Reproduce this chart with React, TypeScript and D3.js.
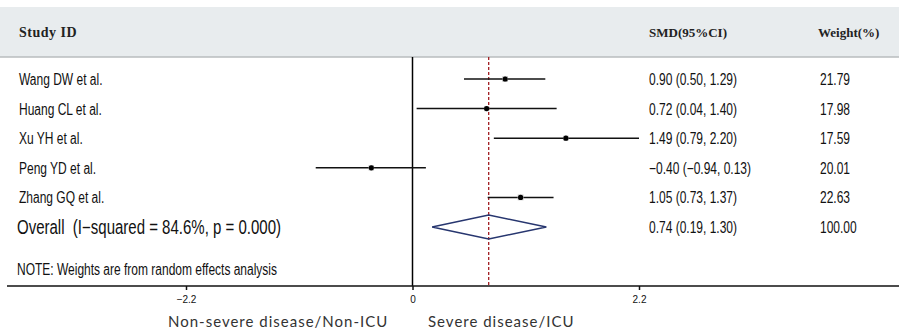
import React, { useRef, useEffect } from 'react';
import * as d3 from 'd3';

const studies = ['Wang DW et al.', 'Huang CL et al.', 'Xu YH et al.', 'Peng YD et al.', 'Zhang GQ et al.'];
const smd = [0.90, 0.72, 1.49, -0.40, 1.05];
const lower = [0.50, 0.04, 0.79, -0.94, 0.73];
const upper = [1.29, 1.40, 2.20, 0.13, 1.37];
const weights = ['21.79', '17.98', '17.59', '20.01', '22.63'];
const ciLabels = ['0.90 (0.50, 1.29)', '0.72 (0.04, 1.40)', '1.49 (0.79, 2.20)', '\u22120.40 (\u22120.94, 0.13)', '1.05 (0.73, 1.37)'];

const overallLabel = 'Overall  (I\u2212squared = 84.6%, p = 0.000)';
const overall = { est: 0.74, lo: 0.19, hi: 1.30, ci: '0.74 (0.19, 1.30)', weight: '100.00' };
const ticks = [-2.2, 0, 2.2];
const tickLabels = ['\u22122.2', '0', '2.2'];

const sans = '"Liberation Sans", Arial, sans-serif';

// condensed-looking text: regular sans squeezed horizontally
const narrowText = (g: any, x: number, y: number, str: string, size: number, sx = 0.75) =>
  g.append('text')
    .attr('transform', `translate(${x},${y}) scale(${sx},1)`)
    .attr('font-family', sans)
    .attr('font-size', size)
    .attr('fill', '#111')
    .attr('xml:space', 'preserve')
    .text(str);

const App = () => {
  const ref = useRef<SVGSVGElement>(null);

  useEffect(() => {
    const width = 899;
    const svg = d3.select(ref.current);
    svg.selectAll('*').remove();

    const x = d3.scaleLinear().domain([-2.2, 2.2]).range([186, 639]);
    const y = d3.scalePoint<string>().domain([...studies, 'Overall']).range([79, 227]);
    const axisY = 286;

    // header band
    svg.append('rect').attr('x', 0).attr('y', 7).attr('width', width).attr('height', 50).attr('fill', '#e8ecee');
    svg.append('line').attr('x1', 0).attr('x2', width).attr('y1', 57).attr('y2', 57).attr('stroke', '#b9bcbe').attr('stroke-width', 1.5);

    const head = svg.append('g').attr('font-family', '"Liberation Serif", serif').attr('font-weight', 'bold').attr('font-size', 13).attr('fill', '#222');
    head.append('text').attr('x', 19).attr('y', 37).attr('font-size', 14).attr('letter-spacing', 0.5).text('Study ID');
    head.append('text').attr('x', 649).attr('y', 37).text('SMD(95%CI)');
    head.append('text').attr('x', 818).attr('y', 37).text('Weight(%)');

    // zero line
    svg.append('line').attr('x1', x(0)).attr('x2', x(0)).attr('y1', 57).attr('y2', axisY).attr('stroke', '#000').attr('stroke-width', 1.5);
    // overall dashed line
    svg.append('line').attr('x1', x(overall.est)).attr('x2', x(overall.est)).attr('y1', 57).attr('y2', axisY)
      .attr('stroke', '#a11d22').attr('stroke-width', 1.3).attr('stroke-dasharray', '3,2');

    // study rows
    const rows = svg.append('g');
    studies.forEach((s, i) => {
      const yy = y(s) as number;
      narrowText(rows, 19, yy + 6, s, 16);
      rows.append('line').attr('x1', x(lower[i])).attr('x2', x(upper[i])).attr('y1', yy).attr('y2', yy).attr('stroke', '#111').attr('stroke-width', 1.5);
      const bs = 3 + parseFloat(weights[i]) / 8;
      rows.append('rect').attr('x', x(smd[i]) - bs / 2).attr('y', yy - bs / 2).attr('width', bs).attr('height', bs).attr('fill', '#c8c8c8');
      rows.append('circle').attr('cx', x(smd[i])).attr('cy', yy).attr('r', 2.6).attr('fill', '#000');
      narrowText(rows, 649, yy + 6, ciLabels[i], 16);
      narrowText(rows, 820, yy + 6, weights[i], 16);
    });

    // overall
    const oy = y('Overall') as number;
    narrowText(svg, 17, oy + 7, overallLabel, 19.5, 0.77);
    const diamond = d3.line()([
      [x(overall.lo), oy], [x(overall.est), oy - 12], [x(overall.hi), oy], [x(overall.est), oy + 12], [x(overall.lo), oy]
    ]);
    svg.append('path').attr('d', diamond).attr('fill', 'none').attr('stroke', '#27366f').attr('stroke-width', 1.5);
    narrowText(svg, 649, oy + 6, overall.ci, 16);
    narrowText(svg, 820, oy + 6, overall.weight, 16);

    narrowText(svg, 17, 275, 'NOTE: Weights are from random effects analysis', 16);

    // axis
    svg.append('line').attr('x1', 7).attr('x2', width).attr('y1', axisY).attr('y2', axisY).attr('stroke', '#111').attr('stroke-width', 1.5);
    const ax = svg.append('g').attr('transform', `translate(0,${axisY})`)
      .call(d3.axisBottom(x).tickValues(ticks).tickSize(4).tickFormat((d, i) => tickLabels[i]));
    ax.select('.domain').remove();
    ax.selectAll('line').attr('stroke', '#111').attr('stroke-width', 1.5);
    ax.selectAll('text').attr('font-family', sans).attr('font-size', 10).attr('fill', '#111').attr('dy', '1em');

    const foot = svg.append('g').attr('font-family', 'Lato, "Open Sans", sans-serif').attr('font-size', 15).attr('fill', '#333');
    foot.append('text').attr('x', 168).attr('y', 327).attr('letter-spacing', 1).text('Non-severe disease/Non-ICU');
    foot.append('text').attr('x', 428).attr('y', 327).attr('letter-spacing', 1).text('Severe disease/ICU');
  }, []);

  return <svg ref={ref} width={899} height={332} style={{ position: 'absolute', left: 0, top: 0 }} />;
};

export default App;
